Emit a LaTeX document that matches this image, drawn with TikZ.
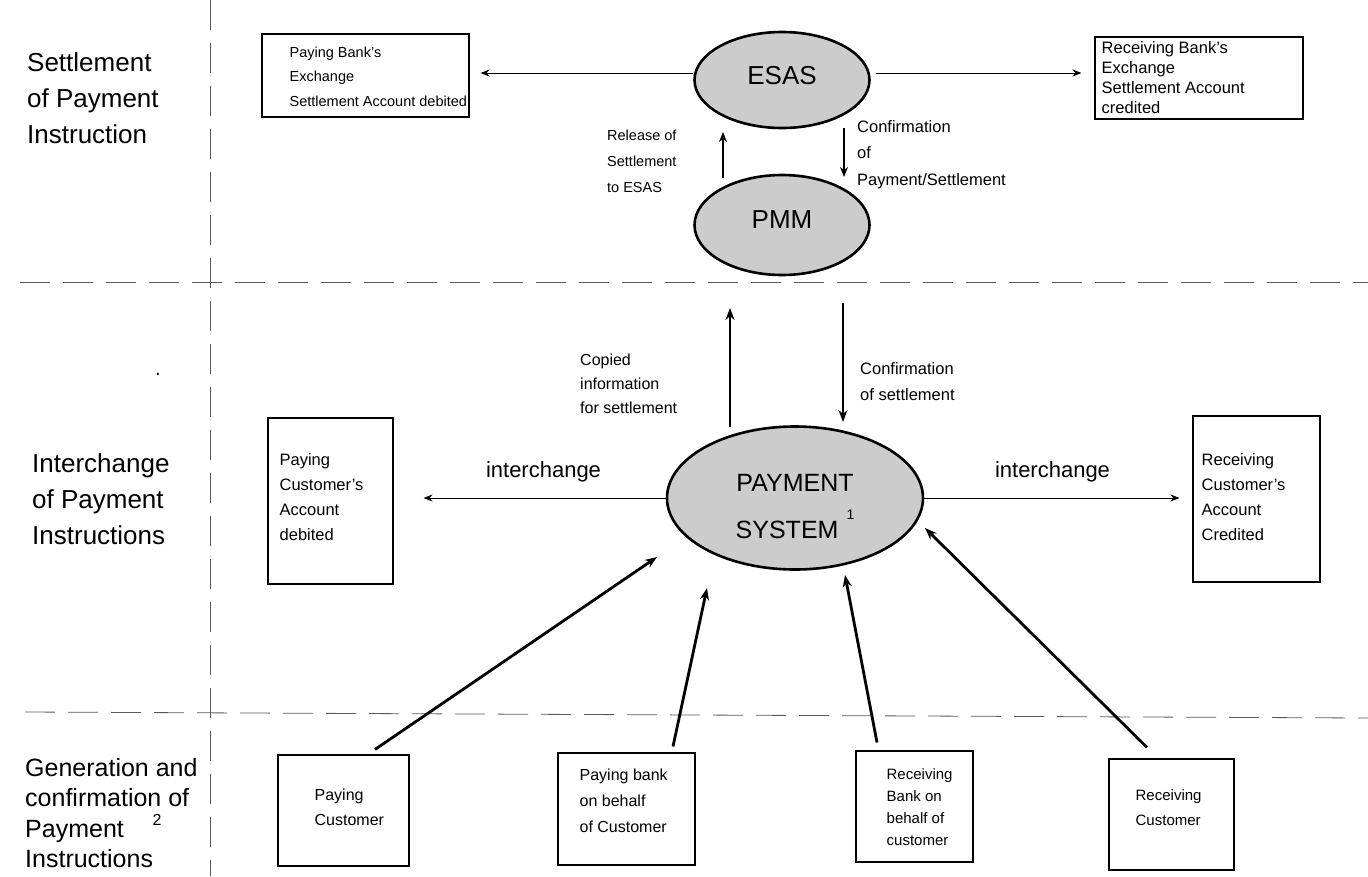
\documentclass[tikz,border=0pt]{standalone}
\usepackage{fontspec}
\setmainfont{Liberation Sans}
\usetikzlibrary{shapes.geometric,arrows.meta}
\begin{document}
\begin{tikzpicture}[x=1pt,y=-1pt,
  sect/.style={dash pattern=on 30pt off 13pt, line width=0.8pt, black!65},
  ovalnode/.style={ellipse, draw, line width=2.6pt, fill=black!20, inner sep=0pt, align=center},
  boxnode/.style={draw, line width=1.1pt, inner sep=0pt},
  boxtext/.style={anchor=west, align=left, inner sep=0pt},
  lbl/.style={anchor=west, align=left, inner sep=0pt},
  thinarrow/.style={-{Stealth[length=9pt,width=7pt]}, line width=0.9pt},
  midarrow/.style={-{Stealth[length=10pt,width=8pt]}, line width=2pt},
  thickarrow/.style={-{Stealth[length=12pt,width=9pt]}, line width=2.8pt},
]
\useasboundingbox (0,0) rectangle (1368,876);

% section separators
\coordinate (vtop) at (210,0);
\coordinate (vbot) at (210,876);
\coordinate (h1l) at (20,282);
\coordinate (h1r) at (1368,282);
\coordinate (h2l) at (25,712);
\coordinate (h2r) at (1368,718);
\draw[sect] (vtop) -- (vbot);
\draw[sect] (h1l) -- (h1r);
\draw[sect] (h2l) -- (h2r);

% section titles
\node[lbl, font=\fontsize{26}{36}\selectfont] (t1) at (27,98) {Settlement\\of Payment\\Instruction};
\node[lbl, font=\fontsize{26}{36}\selectfont] (t2) at (32,499) {Interchange\\of Payment\\Instructions};
\node[lbl, font=\fontsize{25}{30.5}\selectfont] (t3) at (25,813) {Generation and\\confirmation of\\Payment\\Instructions};
\node[inner sep=0pt, font=\fontsize{16}{16}\selectfont] (t3sup) at (157,820) {2};
\node[inner sep=0pt, font=\fontsize{20}{20}\selectfont] (dot) at (158,374) {.};

% ellipses
\node[ovalnode, minimum width=175pt, minimum height=96pt, font=\fontsize{26}{30}\selectfont] (esas) at (782,80) {ESAS\rule[-10pt]{0pt}{0pt}};
\node[ovalnode, minimum width=175pt, minimum height=100pt, font=\fontsize{26}{30}\selectfont] (pmm) at (782,225) {PMM\rule[-10pt]{0pt}{0pt}};
\node[ovalnode, minimum width=256pt, minimum height=143pt, font=\fontsize{25}{47}\selectfont] (ps) at (795,498)
  {\rule{0pt}{35pt}PAYMENT\\SYSTEM\hspace{8pt}\raisebox{19pt}{\fontsize{14}{14}\selectfont 1}};

% settlement boxes
\node[boxnode, minimum width=207pt, minimum height=83pt] (pbx) at (365.5,75.5) {};
\node[boxtext, font=\fontsize{14.5}{24.5}\selectfont] (pbxt) at ([xshift=28pt,yshift=-1pt]pbx.west) {Paying Bank's\\Exchange\\Settlement Account debited};
\node[boxnode, minimum width=208pt, minimum height=82pt] (rbx) at (1199,78) {};
\node[boxtext, font=\fontsize{16.5}{20}\selectfont] (rbxt) at ([xshift=7pt]rbx.west) {Receiving Bank's\\Exchange\\Settlement Account\\credited};

% account boxes
\node[boxnode, minimum width=125pt, minimum height=166pt] (pca) at (330.5,501) {};
\node[boxtext, font=\fontsize{16.5}{25}\selectfont] (pcat) at ([xshift=12pt,yshift=4pt]pca.west) {Paying\\Customer's\\Account\\debited};
\node[boxnode, minimum width=127pt, minimum height=166pt] (rca) at (1256.5,499) {};
\node[boxtext, font=\fontsize{16.5}{25}\selectfont] (rcat) at ([xshift=9pt,yshift=1.5pt]rca.west) {Receiving\\Customer's\\Account\\Credited};

% generation boxes
\node[boxnode, minimum width=131pt, minimum height=111pt] (pc) at (343.5,810.5) {};
\node[boxtext, font=\fontsize{16}{25}\selectfont] (pct) at ([xshift=37pt,yshift=3pt]pc.west) {Paying\\Customer};
\node[boxnode, minimum width=137pt, minimum height=112pt] (pb) at (626.5,809) {};
\node[boxtext, font=\fontsize{16}{26}\selectfont] (pbt) at ([xshift=22pt,yshift=8pt]pb.west) {Paying bank\\on behalf\\of Customer};
\node[boxnode, minimum width=117pt, minimum height=111pt] (rb) at (914.5,806.5) {};
\node[boxtext, font=\fontsize{15}{22}\selectfont] (rbt) at ([xshift=31pt,yshift=-1pt]rb.west) {Receiving\\Bank on\\behalf of\\customer};
\node[boxnode, minimum width=125pt, minimum height=111pt] (rc) at (1171.5,814.5) {};
\node[boxtext, font=\fontsize{15}{25}\selectfont] (rct) at ([xshift=27pt,yshift=7pt]rc.west) {Receiving\\Customer};

% arrow labels
\node[lbl, font=\fontsize{14.5}{26}\selectfont] (rel) at (607,161) {Release of\\Settlement\\to ESAS};
\node[lbl, font=\fontsize{16.5}{26.5}\selectfont] (conf1) at (857,154.5) {Confirmation\\of\\Payment/Settlement};
\node[lbl, font=\fontsize{16}{24}\selectfont] (copied) at (580,384) {Copied\\information\\for settlement};
\node[lbl, font=\fontsize{16.5}{26}\selectfont] (conf2) at (860,382) {Confirmation\\of settlement};
\node[inner sep=0pt, font=\fontsize{22}{26}\selectfont] (ichl) at (543.5,472) {interchange};
\node[inner sep=0pt, font=\fontsize{22}{26}\selectfont] (ichr) at (1052.5,472) {interchange};

% ESAS side arrows
\coordinate (el) at ([yshift=7pt]esas.west);
\coordinate (er) at ([yshift=7pt]esas.east);
\draw[thinarrow, shorten >=11pt] (el) -- (el -| pbx.east);
\draw[thinarrow, shorten <=5pt, shorten >=13pt] (er) -- (er -| rbx.west);

% PMM <-> ESAS
\draw[midarrow] ([xshift=-59pt,yshift=47pt]pmm.center) -- ([xshift=-59pt,yshift=-52pt]esas.center);
\draw[midarrow] ([xshift=62pt,yshift=-48pt]esas.center) -- ([xshift=62pt,yshift=48pt]pmm.center);

% Payment system <-> PMM
\draw[thickarrow] ([xshift=-65pt,yshift=71pt]ps.center) -- ([xshift=-52pt,yshift=-83pt]pmm.center);
\draw[thickarrow] ([xshift=61pt,yshift=-78pt]pmm.center) -- ([xshift=48pt,yshift=76pt]ps.center);

% interchange arrows
\draw[thinarrow, shorten >=30pt] (ps.west) -- (ps.west -| pca.east);
\draw[thinarrow, shorten >=13pt] (ps.east) -- (ps.east -| rca.west);

% generation arrows
\draw[thickarrow] ([xshift=31.5pt,yshift=5pt]pc.north) -- ([xshift=-138pt,yshift=-59pt]ps.center);
\draw[thickarrow] ([xshift=46.5pt,yshift=6pt]pb.north) -- ([xshift=-88pt,yshift=-90pt]ps.center);
\draw[thickarrow] ([xshift=-37.5pt,yshift=8pt]rb.north) -- ([xshift=50pt,yshift=-77pt]ps.center);
\draw[thickarrow] ([xshift=-24.5pt,yshift=11pt]rc.north) -- ([xshift=130pt,yshift=-30pt]ps.center);
\end{tikzpicture}
\end{document}
